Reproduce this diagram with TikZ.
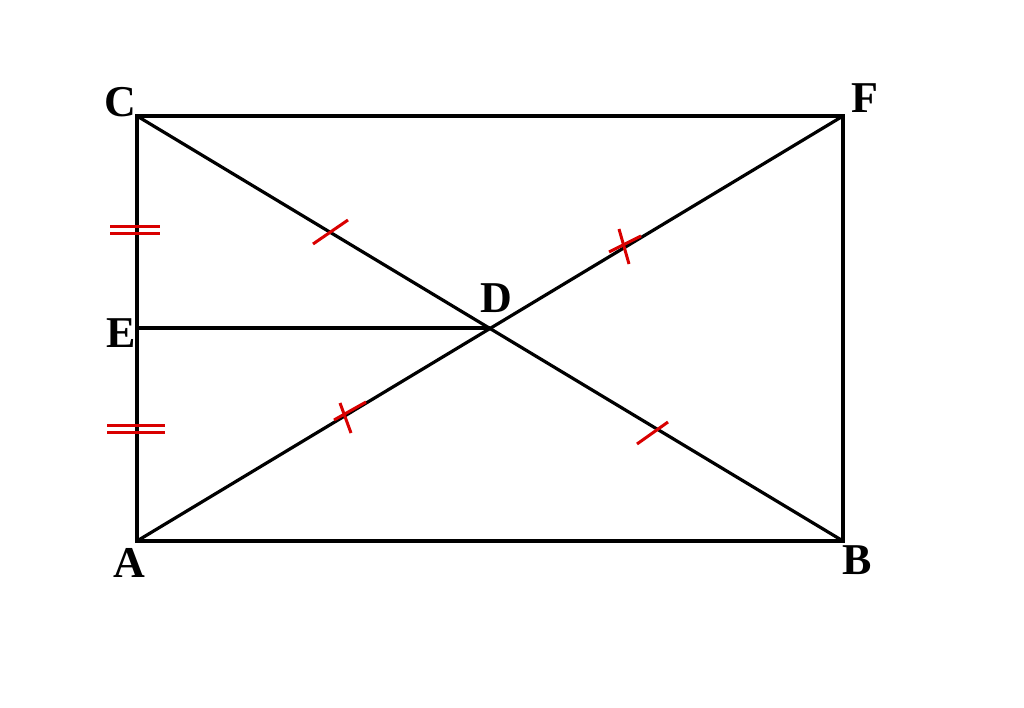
\documentclass[tikz,border=0pt]{standalone}
\usepackage{fontspec}
\setmainfont{Liberation Serif}
\begin{document}
\begin{tikzpicture}[x=1pt,y=-1pt,line width=3.2pt,
 lbl/.style={font=\bfseries\fontsize{44}{44}\selectfont,inner sep=0pt},
 mk/.style={red!85!black,line width=3pt}]
\useasboundingbox (0,0) rectangle (1024,707);
\coordinate (A) at (137,541); \coordinate (B) at (843,541);
\coordinate (C) at (137,116); \coordinate (F) at (843,116);
\coordinate (D) at (490,328); \coordinate (E) at (137,328);
\draw (A) -- (B) -- (F) -- (C) -- cycle;
\draw (C) -- (B); \draw (A) -- (F); \draw (E) -- (D);
\node[lbl] (lA) at (129,563) {A};
\node[lbl] (lB) at (857,560) {B};
\node[lbl] (lC) at (120,102) {C};
\node[lbl] (lF) at (865,98) {F};
\node[lbl] (lD) at (496,298) {D};
\node[lbl] (lE) at (121,333) {E};
\draw[mk] (110,226) -- (160,226); \draw[mk] (110,233) -- (160,233);
\draw[mk] (107,425) -- (165,425); \draw[mk] (107,432) -- (165,432);
\draw[mk] (313,244) -- (348,220);
\draw[mk] (637,444) -- (668,422);
\draw[mk] (334,420) -- (366,402); \draw[mk] (340,403) -- (351,433);
\draw[mk] (609,252) -- (641,236); \draw[mk] (619,229) -- (629,264);
\end{tikzpicture}
\end{document}
